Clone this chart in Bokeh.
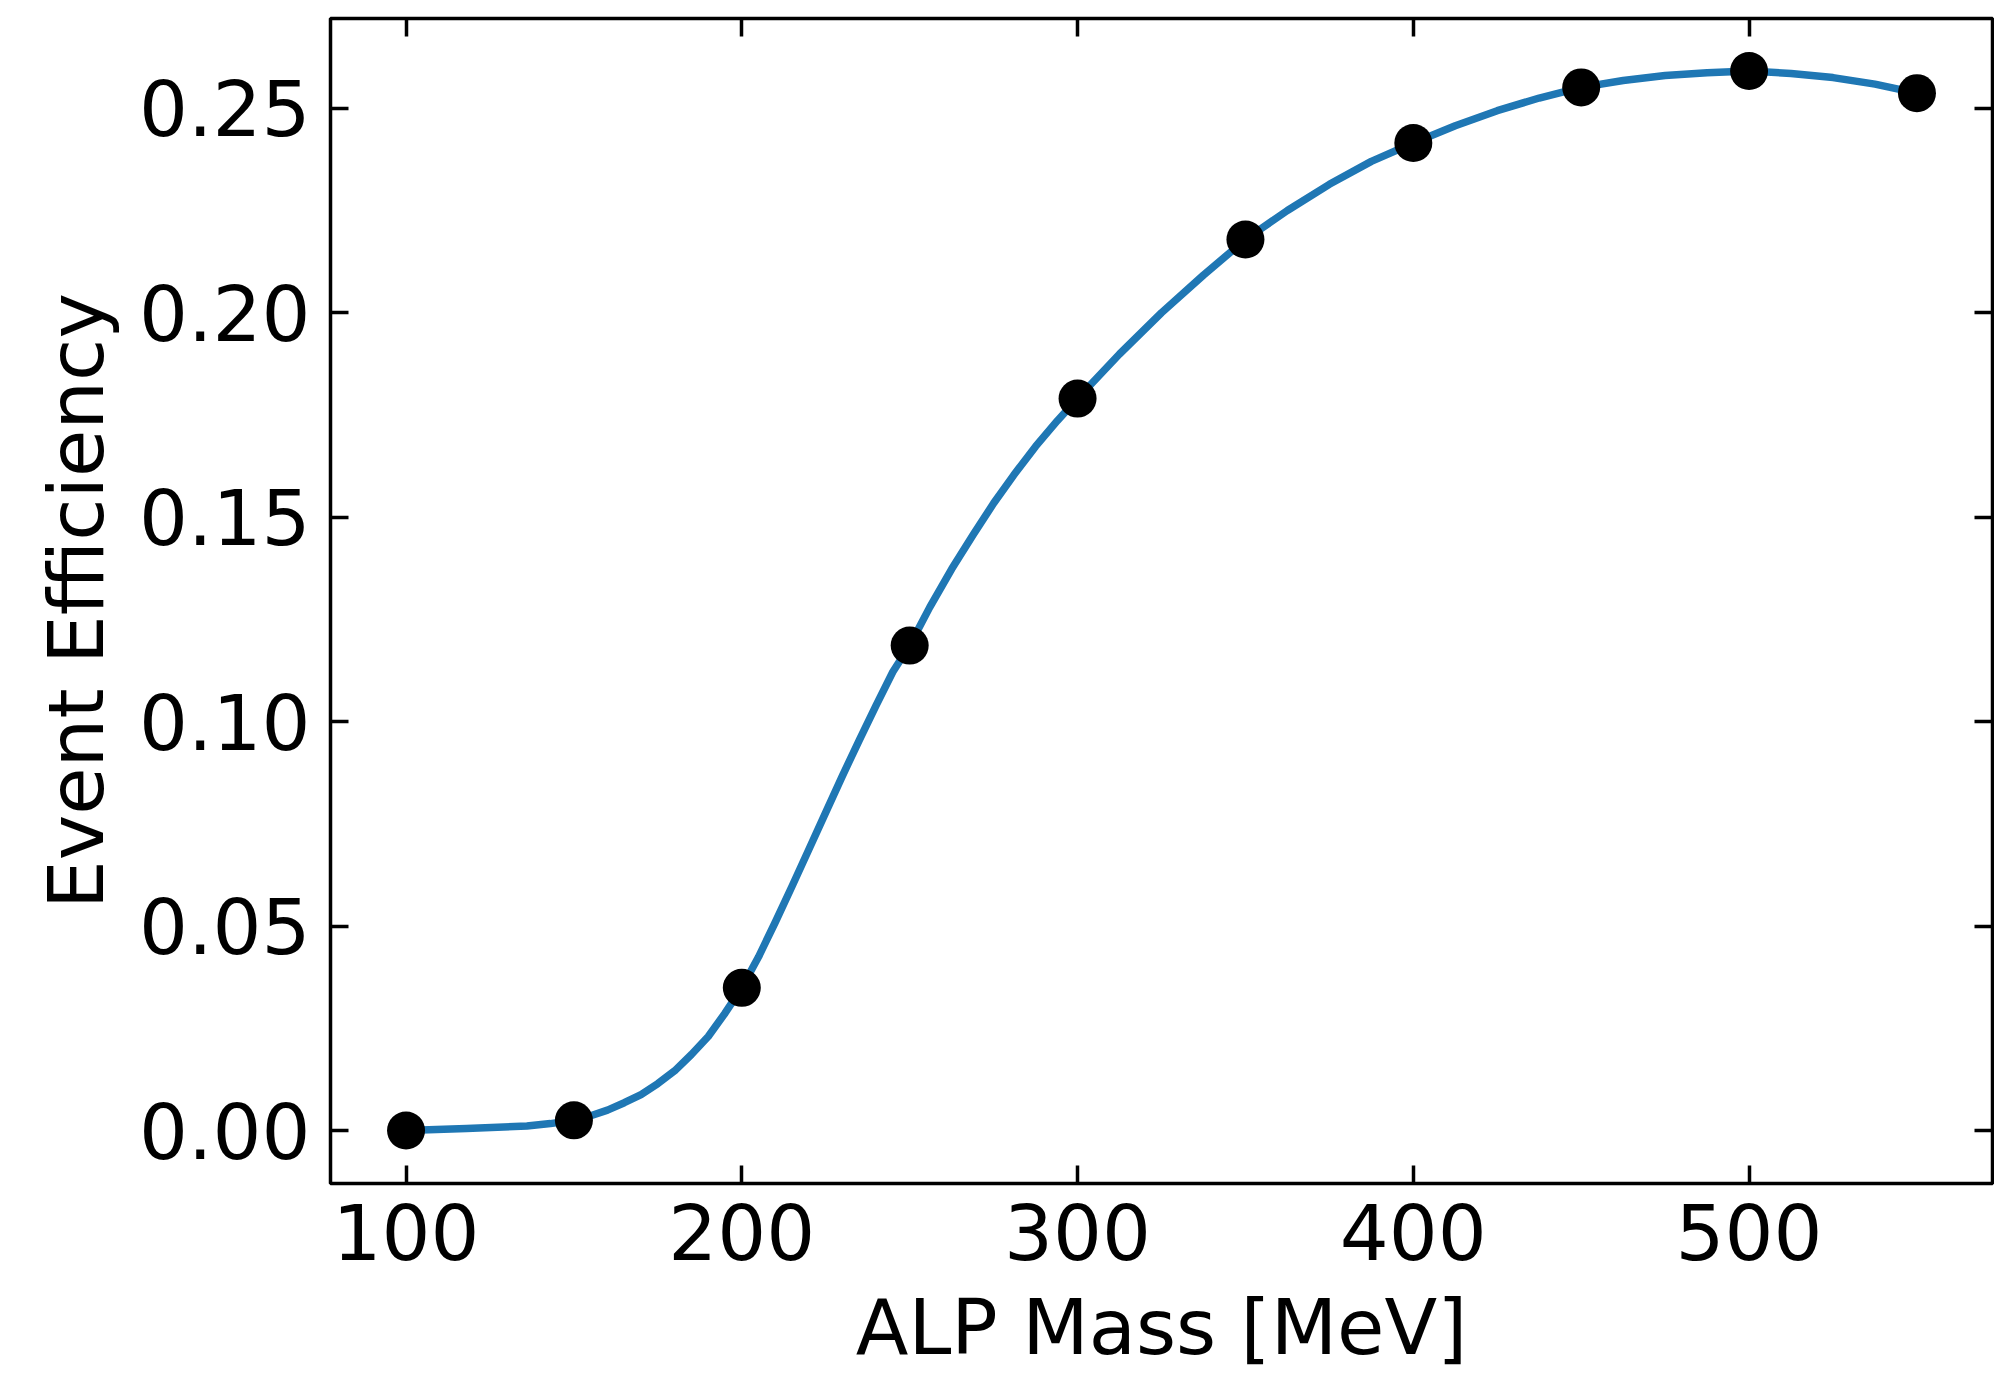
from bokeh.plotting import figure
from bokeh.models import Range1d, FixedTicker, LinearAxis, PrintfTickFormatter
from bokeh.embed import file_html
from bokeh.resources import INLINE

# ---- data ----
mass = [100, 150, 200, 250, 300, 350, 400, 450, 500, 550]
eff = [0.0000, 0.0025, 0.0349, 0.1186, 0.1790, 0.2179, 0.2415, 0.2551, 0.2591, 0.2537]

# smooth guide line
curve_mass = [100, 118, 136, 143, 150, 155, 160, 165, 170, 175, 180, 185, 190, 195,
              200, 205, 210, 215, 220, 225, 230, 235, 240, 245, 250, 256, 262.5, 269,
              275, 281, 287.5, 294, 300, 312.5, 325, 337.5, 350, 362.5, 375, 387.5,
              400, 412.5, 425, 437.5, 450, 462.5, 475, 487.5, 500, 512.5, 525, 537.5,
              550]
curve_eff = [0.0000, 0.0005, 0.0011, 0.0017, 0.0025, 0.0036, 0.0050, 0.0068, 0.0088,
             0.0115, 0.0146, 0.0186, 0.0230, 0.0287, 0.0349, 0.0425, 0.0510, 0.0598,
             0.0688, 0.0778, 0.0868, 0.0955, 0.1040, 0.1122, 0.1186, 0.1280, 0.1373,
             0.1458, 0.1534, 0.1603, 0.1673, 0.1736, 0.1790, 0.1899, 0.2000, 0.2092,
             0.2179, 0.2250, 0.2314, 0.2370, 0.2415, 0.2457, 0.2494, 0.2525, 0.2551,
             0.2568, 0.2580, 0.2587, 0.2591, 0.2585, 0.2575, 0.2559, 0.2537]

x_ticks = [100, 200, 300, 400, 500]
y_ticks = [0.00, 0.05, 0.10, 0.15, 0.20, 0.25]
x_label = "ALP Mass [MeV]"
y_label = "Event Efficiency"

FONT = "DejaVu Sans"
FS = "77px"

x0, x1 = 77.5, 572.5
y0, y1 = -0.01295, 0.27195

p = figure(width=1994, height=1375, output_backend="svg", toolbar_location=None,
           x_range=Range1d(x0, x1), y_range=Range1d(y0, y1),
           min_border_left=330, min_border_right=2, min_border_top=18,
           min_border_bottom=192)

p.background_fill_color = "white"
p.border_fill_color = "white"
p.outline_line_color = "black"
p.outline_line_width = 3.5
p.xgrid.visible = False
p.ygrid.visible = False

p.line(curve_mass, curve_eff, line_color="#1f77b4", line_width=7.5,
       line_join="round", line_cap="round")
p.scatter(mass, eff, size=38, fill_color="black", line_color="black", line_width=0)


def style(ax, show_labels=True):
    ax.axis_line_color = None
    ax.major_tick_in = 18
    ax.major_tick_out = 0
    ax.major_tick_line_width = 3.5
    ax.major_tick_line_color = "black"
    ax.minor_tick_line_color = None
    ax.major_label_text_font = FONT
    ax.major_label_text_color = "black"
    if show_labels:
        ax.major_label_text_font_size = FS
    else:
        ax.major_label_text_font_size = "0px"
        ax.major_label_text_color = None
        ax.major_label_text_alpha = 0
        ax.major_label_standoff = 0


xa = p.xaxis[0]
ya = p.yaxis[0]
xa.ticker = FixedTicker(ticks=x_ticks)
ya.ticker = FixedTicker(ticks=y_ticks)
ya.formatter = PrintfTickFormatter(format="%.2f")
style(xa)
style(ya)
xa.major_label_standoff = 20
ya.major_label_standoff = 20

xa.axis_label = x_label
ya.axis_label = y_label
for ax in (xa, ya):
    ax.axis_label_text_font = FONT
    ax.axis_label_text_font_size = FS
    ax.axis_label_text_font_style = "normal"
    ax.axis_label_text_color = "black"
xa.axis_label_standoff = 20
ya.axis_label_standoff = 15

top = LinearAxis(ticker=FixedTicker(ticks=x_ticks))
right = LinearAxis(ticker=FixedTicker(ticks=y_ticks))
style(top, False)
style(right, False)
p.add_layout(top, "above")
p.add_layout(right, "right")

open("out.html", "w").write(file_html(p, INLINE))
